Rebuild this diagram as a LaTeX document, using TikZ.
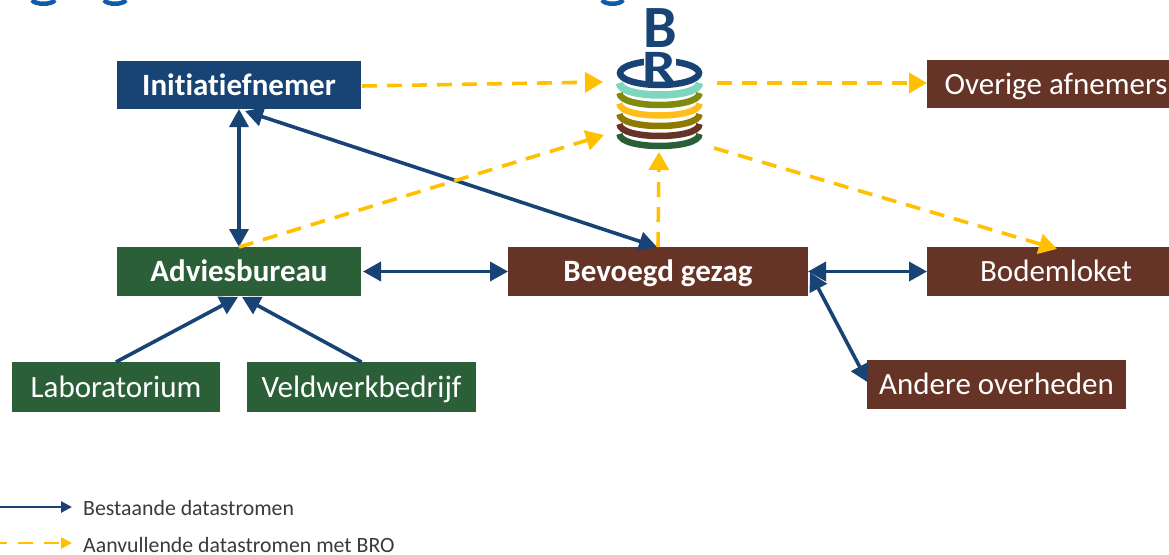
\documentclass[tikz,border=0pt]{standalone}
\usepackage{fontspec}
\setmainfont[Ligatures=NoCommon]{Carlito}
\usetikzlibrary{arrows.meta,calc}
\definecolor{navy}{HTML}{174375}
\definecolor{leaf}{HTML}{2B5F38}
\definecolor{bark}{HTML}{663327}
\definecolor{amber}{HTML}{FFC000}
\definecolor{teal1}{HTML}{7FD6BE}
\definecolor{olive1}{HTML}{7F8A0E}
\definecolor{gold1}{HTML}{FFBE1E}
\definecolor{gold2}{HTML}{8F7A00}
\definecolor{titleblue}{HTML}{0B5CAD}
\definecolor{legendblue}{HTML}{1F3F77}
\definecolor{legendtext}{HTML}{3A3A3A}
\tikzset{
  x=1pt,y=-1pt,
  box/.style={inner sep=0pt,outer sep=0pt,text=white,text height=25pt,text depth=5pt,font=\fontsize{31}{33}\selectfont},
  boldbox/.style={box,font=\fontsize{31}{33}\selectfont\bfseries},
  flowblue/.style={draw=navy,line width=3.6pt},
  flowyellow/.style={draw=amber,line width=3.6pt,dash pattern=on 15pt off 10pt,-{Triangle[length=18pt,width=20pt,fill=amber]}},
  headblue/.tip={Triangle[length=18pt,width=19pt,fill=navy]},
  legendlabel/.style={anchor=base west,inner sep=0pt,text=legendtext,font=\fontsize{21.8}{23}\selectfont},
  band/.style={line width=6.5pt,line cap=butt},
  logoletter/.style={anchor=base,inner sep=0pt,text=navy}
}
\begin{document}
\begin{tikzpicture}
\useasboundingbox (0,0) rectangle (1169,554);
\clip (0,0) rectangle (1169,554);

% cut-off title descenders
\foreach \a/\b in {32/55,104/126,602/623}
  \draw[titleblue,line width=4.5pt] (\a,0) .. controls ({\a+3},5) and ({\b-3},5) .. (\b,0);

% boxes
\node[boldbox,fill=navy,minimum width=244pt,minimum height=48pt] (init) at (239,85) {Initiatiefnemer};
\node[boldbox,fill=leaf,minimum width=244pt,minimum height=49pt] (advies) at (239,271.5) {Adviesbureau};
\node[box,fill=leaf,minimum width=208pt,minimum height=50pt] (lab) at (116,387) {Laboratorium};
\node[box,fill=leaf,minimum width=229pt,minimum height=50pt] (veld) at (361.5,387) {Veldwerkbedrijf};
\node[boldbox,fill=bark,minimum width=300pt,minimum height=49pt] (bevoegd) at (658,271.5) {Bevoegd gezag};
\node[box,fill=bark,minimum width=258pt,minimum height=48pt] (overig) at (1056,84) {Overige afnemers};
\node[box,fill=bark,minimum width=258pt,minimum height=49pt] (bodem) at (1056,271.5) {Bodemloket};
\node[box,fill=bark,minimum width=259pt,minimum height=49pt] (andere) at (996.5,384.5) {Andere overheden};

% logo
\draw[teal1,line width=7.5pt] (619.5,83) .. controls (619.5,99) and (699.5,99) .. (699.5,83);
\draw[olive1,band] (619.5,93) .. controls (619.5,109) and (699.5,109) .. (699.5,93);
\draw[gold1,band] (619.5,103.5) .. controls (619.5,119.5) and (699.5,119.5) .. (699.5,103.5);
\draw[gold2,band] (619.5,114) .. controls (619.5,130) and (699.5,130) .. (699.5,114);
\draw[bark,band] (619.5,124) .. controls (619.5,140) and (699.5,140) .. (699.5,124);
\draw[leaf,band] (619.5,134) .. controls (619.5,150) and (699.5,150) .. (699.5,134);
\draw[navy,line width=6.5pt] (659.5,73) ellipse [x radius=39.5pt,y radius=12pt];
\fill[white] (644,54) rectangle (676,67);
\node[logoletter,font=\fontsize{60}{60}\selectfont\bfseries] (letterB) at (660,47) {B};
\node[logoletter,font=\fontsize{48}{48}\selectfont\bfseries] (letterR) at (659,83) {\scalebox{1.25}[1]{R}};
\coordinate (logoleft) at (603,82);
\coordinate (logoright) at (717,83);
\coordinate (logolow) at (604,135);
\coordinate (logobase) at (659,152);
\coordinate (logolowright) at (714,148);

% existing flows
\draw[flowblue,{headblue}-{headblue}] (init.south) -- (advies.north);
\draw[flowblue,{headblue}-{headblue}] ($(init.south)+(6,2)$) -- ($(bevoegd.north)+(-1,0)$);
\draw[flowblue,{headblue}-{headblue}] ($(advies.east)+(2,0)$) -- (bevoegd.west);
\draw[flowblue,-{headblue}] (lab.north) -- ($(advies.south)+(-1,1)$);
\draw[flowblue,-{headblue}] (veld.north) -- ($(advies.south)+(3,1)$);
\draw[flowblue,{headblue}-{headblue}] (bevoegd.east) -- (bodem.west);
\draw[flowblue,{headblue}-{headblue}] ($(bevoegd.east)+(2,1)$) -- ($(andere.west)+(1,-2)$);

% added flows
\draw[flowyellow] ($(init.east)+(1,1)$) -- (logoleft);
\draw[flowyellow] (logoright) -- ($(overig.west)+(0,-1)$);
\draw[flowyellow] (advies.north) -- (logolow);
\draw[flowyellow] (bevoegd.north) -- (logobase);
\draw[flowyellow] (logolowright) -- ($(bodem.north)+(1,2)$);

% legend
\coordinate (legA0) at (0,507);
\coordinate (legA1) at (72,507);
\coordinate (legB0) at (-8,543);
\coordinate (legB1) at (72,543);
\draw[draw=legendblue,line width=2.6pt,-{Triangle[length=11pt,width=11pt,fill=legendblue]}] (legA0) -- (legA1);
\draw[draw=amber,line width=2.6pt,dash pattern=on 15pt off 11pt,-{Triangle[length=11pt,width=11pt,fill=amber]}] (legB0) -- (legB1);
\node[legendlabel] (legtextA) at (83,515) {Bestaande datastromen};
\node[legendlabel] (legtextB) at (83,552) {Aanvullende datastromen met BRO};
\end{tikzpicture}
\end{document}
